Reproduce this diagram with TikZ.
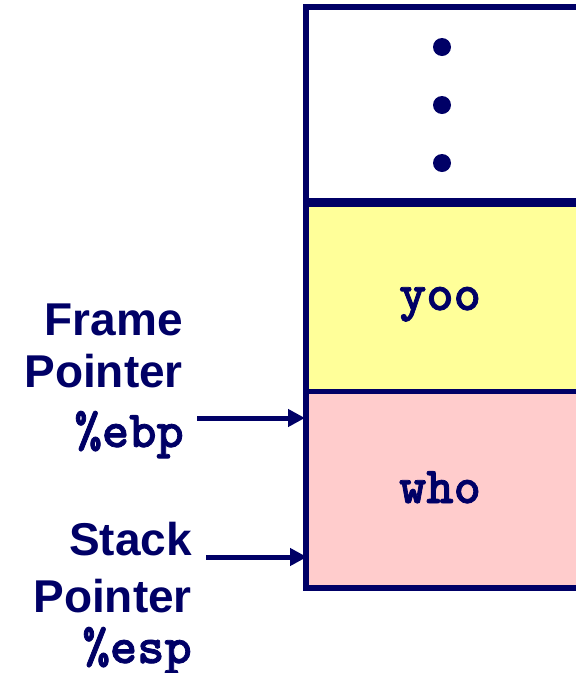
\documentclass[tikz,border=0pt]{standalone}
\usepackage{fontspec}
\setmainfont{Liberation Sans}
\newfontfamily\regfont{lmmonolt10-bold}[Extension=.otf, FakeBold=1.5]
\usetikzlibrary{arrows.meta}

\definecolor{navy}{RGB}{0,0,102}
\definecolor{yoofill}{RGB}{255,255,153}
\definecolor{whofill}{RGB}{255,204,204}

\tikzset{
  lbl/.style={text=navy, inner sep=0pt, font=\fontsize{46}{54}\selectfont\bfseries},
  reg/.style={text=navy, inner sep=0pt, font=\fontsize{52}{60}\selectfont\regfont},
  ptr/.style={draw=navy, line width=5pt, -{Triangle[length=17pt,width=17pt]}},
  dot/.style={circle, fill=navy, inner sep=0pt, minimum size=18pt}
}

\begin{document}
\begin{tikzpicture}[x=1pt,y=-1pt]

\useasboundingbox (0,0) rectangle (576,673) ;
\clip (0,0) rectangle (576,673) ;

% stack cells
\fill [yoofill] (306,202) rectangle (600,391) ;
\fill [whofill] (306,391) rectangle (600,588) ;

\draw [navy, line width=6pt] (600,7) -- (306,7) -- (306,588) -- (600,588) ;
\draw [navy, line width=9pt] (306,202) -- (600,202) ;
\draw [navy, line width=5pt] (306,391) -- (600,391) ;

\node [dot] (d1) at (442,47) {} ;
\node [dot] (d2) at (442,105) {} ;
\node [dot] (d3) at (442,163) {} ;

\node [reg, anchor=base] (yoo) at (440,310) {yoo} ;
\node [reg, anchor=base] (who) at (440,503) {who} ;

% labels
\node [lbl, anchor=base east] (frame) at (183,335) {Frame} ;
\node [lbl, anchor=base east] (fpointer) at (183,387) {Pointer} ;
\node [reg, anchor=base east] (ebp) at (184,447) {\%ebp} ;

\node [lbl, anchor=base east] (stack) at (192,555) {Stack} ;
\node [lbl, anchor=base east] (spointer) at (192,612) {Pointer} ;
\node [reg, anchor=base east] (esp) at (192,663) {\%esp} ;

% pointers
\coordinate (fp) at (197,418) ;
\coordinate (fptip) at (305,418) ;
\coordinate (sp) at (206,557) ;
\coordinate (sptip) at (307,557) ;

\draw [ptr] (fp) -- (fptip) ;
\draw [ptr] (sp) -- (sptip) ;

\end{tikzpicture}
\end{document}
